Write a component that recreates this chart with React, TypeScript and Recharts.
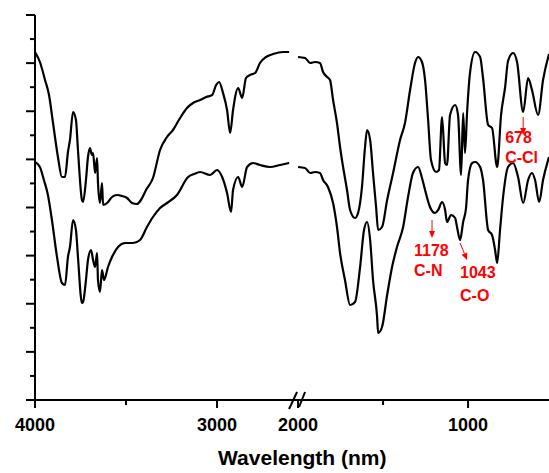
import { LineChart, Line, XAxis, YAxis, ReferenceLine, ReferenceDot, Label } from 'recharts'

const W = 549
const H = 473
const FONT = 'Arial, "Liberation Sans", sans-serif'

// [wavenumber cm-1, transmittance a.u.]
const upperLeft = [
  [4000, 69.6], [3973, 67.6], [3945, 64], [3923, 61], [3901, 55.4], [3874, 48.6], [3852, 44.6], [3835, 44.6],
  [3819, 49.6], [3808, 52], [3791, 57.6], [3775, 56], [3764, 50], [3742, 40], [3736, 39.6], [3720, 44],
  [3709, 48.6], [3698, 50.4], [3687, 49], [3681, 49.4], [3670, 45.4], [3659, 48.4], [3654, 43.4], [3643, 39.4],
  [3632, 43.4], [3626, 39], [3604, 39.4], [3577, 40.6], [3549, 41], [3522, 40.8], [3494, 40.4], [3467, 39.4],
  [3440, 39.2], [3418, 40], [3390, 42], [3352, 44.4], [3313, 50], [3275, 52.6], [3242, 54], [3203, 56.4],
  [3165, 58.4], [3132, 59.4], [3093, 60], [3060, 60.6], [3027, 61], [3005, 63], [2989, 63.6], [2967, 61.4],
  [2945, 58], [2928, 53.4], [2912, 58], [2884, 62.4], [2862, 60.4], [2841, 64.4], [2819, 65], [2791, 65.4],
  [2764, 67.4], [2731, 68.6], [2692, 69.2], [2637, 69.6], [2604, 69.6],
]

const upperRight = [
  [2000, 68.6], [1959, 68.4], [1929, 67.4], [1900, 67.6], [1871, 67.4], [1853, 65.6], [1829, 64.6], [1812, 64],
  [1794, 60], [1771, 55.4], [1753, 50.6], [1735, 46.6], [1712, 42], [1694, 38], [1665, 36.4], [1647, 37.4],
  [1624, 42.6], [1606, 50.6], [1594, 54], [1576, 52], [1559, 45.4], [1541, 38.6], [1529, 34], [1506, 34.6],
  [1476, 40], [1441, 45.4], [1400, 52], [1371, 55.4], [1341, 62], [1312, 67.4], [1294, 68.6], [1271, 67.6],
  [1253, 64], [1235, 56], [1218, 48], [1188, 45.6], [1171, 46], [1153, 56.6], [1135, 47.4], [1124, 47],
  [1106, 57], [1076, 59], [1059, 57], [1041, 45], [1029, 57.4], [1018, 49.4], [1006, 57.4], [988, 65.6],
  [959, 69.6], [929, 68.6], [912, 64.4], [882, 55], [859, 54.4], [829, 46.6], [806, 57], [782, 62.6],
  [765, 67.8], [735, 69.4], [712, 67.6], [676, 57.6], [647, 64.4], [624, 62], [588, 57], [559, 64], [524, 69.2],
]

const lowerLeft = [
  [4000, 47.6], [3973, 46.6], [3951, 44], [3929, 41], [3907, 36], [3879, 28.6], [3852, 23.4], [3835, 23],
  [3819, 28.6], [3808, 30.6], [3791, 36], [3775, 34], [3764, 28.6], [3742, 19.4], [3736, 19.6], [3720, 24],
  [3709, 28], [3692, 30], [3681, 28], [3670, 26.6], [3659, 29.4], [3654, 24], [3643, 21.6], [3632, 26],
  [3621, 24], [3599, 26.6], [3577, 28.6], [3544, 30.6], [3505, 31.4], [3461, 31.4], [3423, 32], [3385, 34.6],
  [3352, 36.6], [3313, 38.4], [3275, 39.4], [3220, 41], [3159, 44.6], [3126, 45.2], [3093, 45.6], [3038, 45],
  [3000, 46], [2972, 44.6], [2945, 41.4], [2923, 37.6], [2912, 42], [2884, 44.6], [2862, 42.6], [2835, 46.6],
  [2802, 47.4], [2764, 47], [2709, 46.6], [2654, 47], [2604, 47.4],
]

const lowerRight = [
  [2000, 46.6], [1959, 46.4], [1929, 45.4], [1900, 45.6], [1871, 45.4], [1853, 44], [1824, 42.6], [1794, 39.4],
  [1771, 34.6], [1753, 29.4], [1724, 24], [1694, 19], [1665, 19.6], [1635, 26.6], [1612, 34], [1594, 35.6],
  [1576, 32], [1559, 24], [1535, 16.6], [1529, 13.4], [1506, 14.6], [1476, 21], [1447, 26.6], [1418, 30.6],
  [1382, 34.6], [1353, 40.6], [1324, 45.4], [1294, 46.6], [1271, 44.4], [1253, 42], [1224, 38.6], [1194, 37.4],
  [1176, 38], [1153, 39.6], [1135, 38], [1124, 35.6], [1100, 37], [1076, 36.4], [1065, 34.6], [1047, 32],
  [1029, 35.6], [1012, 38.4], [1000, 44], [976, 47.4], [959, 47.6], [929, 46.6], [912, 44], [882, 34],
  [859, 33], [841, 30], [829, 27.4], [812, 34], [794, 40.6], [765, 46.6], [735, 47.4], [706, 44.6],
  [676, 39.4], [647, 44], [624, 45.4], [606, 44], [582, 39.6], [559, 44], [524, 48.6],
]

// x axis ticks: wavenumber, major?, label
const xTicks = [
  { wn: 4000, major: true, label: '4000' },
  { wn: 3500, major: false, label: '' },
  { wn: 3000, major: true, label: '3000' },
  { wn: 2000, major: true, label: '2000', brk: true },
  { wn: 1500, major: false, label: '' },
  { wn: 1000, major: true, label: '1000' },
]

// red peak annotations
const arrows = [
  { from: [1212, 36], to: [1212, 32.4] },
  { from: [1047, 31.4], to: [1006, 28] },
  { from: [676, 56.6], to: [676, 53] },
]
const notes = [
  { wn: 1318, v: 30, text: '1178' },
  { wn: 1318, v: 26, text: 'C-N' },
  { wn: 1047, v: 25.6, text: '1043' },
  { wn: 1047, v: 21, text: 'C-O' },
  { wn: 782, v: 52.6, text: '678' },
  { wn: 782, v: 48.6, text: 'C-Cl' },
]

// broken axis: 4000-2600 on the left, 2000-524 on the right (slightly compressed)
const BREAK_T = 1445
const RIGHT_SCALE = 0.934
const toT = (wn: number) => (wn > 2300 ? 4000 - wn : BREAK_T + (2000 - wn) * RIGHT_SCALE)
const T_MAX = toT(524)
const Y_MAX = 77
const yTickVals = Array.from({ length: 17 }, (_, i) => (i * Y_MAX) / 16)

const toRows = (pts: number[][]) => pts.map(([wn, v]) => ({ t: toT(wn), v }))
const segments = [upperLeft, upperRight, lowerLeft, lowerRight].map(toRows)

const XTick = ({ x, y, payload }: any) => {
  const tk = xTicks.find(d => Math.abs(toT(d.wn) - payload.value) < 0.5)
  if (!tk) return null
  return (
    <g>
      <line x1={x} y1={y} x2={x} y2={y + (tk.major ? 8 : 5)} stroke="#000" strokeWidth={2} />
      {tk.brk && (
        <g stroke="#000" strokeWidth={2}>
          <line x1={x - 9} y1={y + 9} x2={x - 1} y2={y - 8} />
          <line x1={x + 1} y1={y + 7} x2={x + 7} y2={y - 8} />
        </g>
      )}
      {tk.label && (
        <text x={x} y={y + 31} textAnchor="middle" fontSize={18} fontWeight="bold" fontFamily={FONT} fill="#000">
          {tk.label}
        </text>
      )}
    </g>
  )
}

const YTick = ({ x, y, payload }: any) => {
  const i = Math.round((payload.value * 16) / Y_MAX)
  const len = i % 2 === 0 ? 9 : 5
  return <line x1={x} y1={y} x2={x - len} y2={y} stroke="#000" strokeWidth={2} />
}

const arrowShape = (p: any) => {
  const { x1, y1, x2, y2 } = p
  const a = Math.atan2(y2 - y1, x2 - x1)
  const L = 7, hw = 3
  const bx = x2 - L * Math.cos(a), by = y2 - L * Math.sin(a)
  const pts = `${x2},${y2} ${bx - hw * Math.sin(a)},${by + hw * Math.cos(a)} ${bx + hw * Math.sin(a)},${by - hw * Math.cos(a)}`
  return (
    <g>
      <line x1={x1} y1={y1} x2={bx} y2={by} stroke="#ff0000" strokeWidth={1} />
      <polygon points={pts} fill="#ff0000" />
    </g>
  )
}

const textShape = (txt: string) => (p: any) => (
  <text x={p.cx} y={p.cy} dominantBaseline="central" fill="#ff0000" fontSize={16} fontWeight="bold" fontFamily={FONT}>
    {txt}
  </text>
)

const TitleLabel = (p: any) => {
  const vb = p.viewBox || { x: 35, y: 400, width: 514, height: 73 }
  return (
    <text x={vb.x + vb.width * 0.52} y={vb.y + 65} textAnchor="middle" fontSize={21} fontWeight="bold" fontFamily={FONT} fill="#000">
      Wavelength (nm)
    </text>
  )
}

export default function App() {
  return (
    <div style={{ position: 'absolute', left: 0, top: 0, width: W, height: H, background: '#fff' }}>
      <LineChart width={W} height={H} margin={{ top: 15, right: 0, bottom: 0, left: 0 }}>
        <XAxis
          type="number" dataKey="t" domain={[0, T_MAX]} ticks={xTicks.map(d => toT(d.wn))} interval={0}
          tick={<XTick />} tickLine={false} tickSize={0} tickMargin={0} height={73} allowDataOverflow
          axisLine={{ stroke: '#000', strokeWidth: 2 }}
        >
          <Label content={TitleLabel} />
        </XAxis>
        <YAxis
          type="number" domain={[0, Y_MAX]} ticks={yTickVals} interval={0}
          tick={<YTick />} tickLine={false} tickSize={0} tickMargin={0} width={35} allowDataOverflow
          axisLine={{ stroke: '#000', strokeWidth: 2 }}
        />
        {segments.map((rows, i) => (
          <Line
            key={i} data={rows} dataKey="v" type="monotone" stroke="#000" strokeWidth={2.2}
            dot={false} activeDot={false} isAnimationActive={false} strokeLinejoin="round"
          />
        ))}
        {arrows.map((a, i) => (
          <ReferenceLine
            key={'a' + i} ifOverflow="visible" shape={arrowShape}
            segment={[{ x: toT(a.from[0]), y: a.from[1] }, { x: toT(a.to[0]), y: a.to[1] }]}
          />
        ))}
        {notes.map((n, i) => (
          <ReferenceDot key={'n' + i} x={toT(n.wn)} y={n.v} r={0} ifOverflow="visible" shape={textShape(n.text)} />
        ))}
      </LineChart>
    </div>
  )
}
